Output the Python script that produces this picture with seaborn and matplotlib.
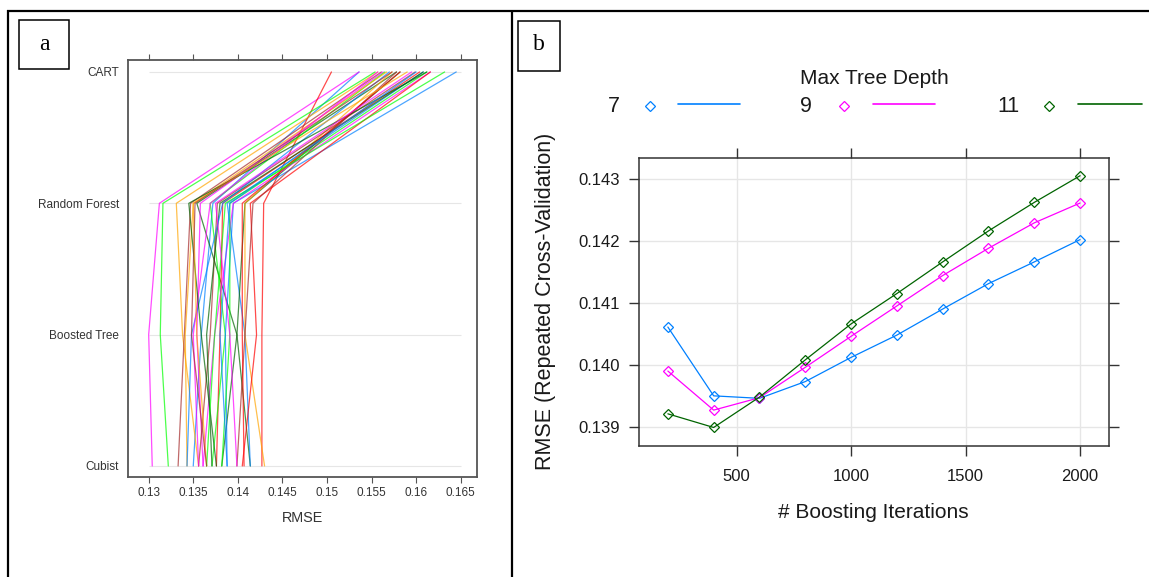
import numpy as np
import pandas as pd
import matplotlib
matplotlib.use("Agg")
import matplotlib.pyplot as plt
import seaborn as sns
from matplotlib.lines import Line2D
from matplotlib.patches import Rectangle

# ---------------- data: panel a (resample RMSE per model) ----------------
models = ["CART", "Random Forest", "Boosted Tree", "Cubist"]
cart = [0.1536, 0.1536, 0.1578, 0.1505, 0.1557, 0.1554, 0.1561, 0.1608, 0.1563, 0.1582,
        0.1604, 0.1573, 0.1565, 0.1599, 0.1645, 0.1616, 0.1608, 0.1616, 0.1567, 0.1612,
        0.1578, 0.1570, 0.1557, 0.1612, 0.1582, 0.1590, 0.1632, 0.1573, 0.1600, 0.1595]
rf = [0.1372, 0.1312, 0.1354, 0.1429, 0.1331, 0.1316, 0.1347, 0.1388, 0.1358, 0.1408,
      0.1383, 0.1408, 0.1369, 0.1377, 0.1395, 0.1395, 0.1380, 0.1414, 0.1350, 0.1391,
      0.1417, 0.1383, 0.1369, 0.1345, 0.1405, 0.1350, 0.1386, 0.1352, 0.1391, 0.1375]
bt = [0.1359, 0.1300, 0.1399, 0.1427, 0.1338, 0.1313, 0.1340, 0.1408, 0.1354, 0.1399,
      0.1380, 0.1408, 0.1386, 0.1369, 0.1386, 0.1374, 0.1365, 0.1421, 0.1341, 0.1391,
      0.1408, 0.1348, 0.1350, 0.1359, 0.1405, 0.1354, 0.1374, 0.1348, 0.1380, 0.1391]
cubist = [0.1350, 0.1304, 0.1414, 0.1427, 0.1356, 0.1322, 0.1333, 0.1414, 0.1361, 0.1382,
          0.1376, 0.1430, 0.1371, 0.1356, 0.1388, 0.1361, 0.1371, 0.1405, 0.1343, 0.1382,
          0.1399, 0.1343, 0.1356, 0.1376, 0.1407, 0.1365, 0.1365, 0.1365, 0.1388, 0.1399]
rmse_ticks = [0.13, 0.135, 0.14, 0.145, 0.15, 0.155, 0.16, 0.165]
rmse_tick_labels = ["0.13", "0.135", "0.14", "0.145", "0.15", "0.155", "0.16", "0.165"]

# ---------------- data: panel b (boosting tuning) ----------------
iterations = [200, 400, 600, 800, 1000, 1200, 1400, 1600, 1800, 2000]
depth7 = [0.14061, 0.13950, 0.13946, 0.13973, 0.14012, 0.14048, 0.14090, 0.14131, 0.14166, 0.14202]
depth9 = [0.13990, 0.13927, 0.13947, 0.13996, 0.14046, 0.14095, 0.14144, 0.14188, 0.14229, 0.14261]
depth11 = [0.13921, 0.13899, 0.13948, 0.14008, 0.14066, 0.14115, 0.14166, 0.14216, 0.14262, 0.14305]
depth_labels = ["7", "9", "11"]
iter_ticks = [500, 1000, 1500, 2000]
rmse_b_ticks = [0.139, 0.140, 0.141, 0.142, 0.143]

# lattice default superpose colours
lattice_cols = ["#0080ff", "#ff00ff", "#006400", "#ff0000", "#ffa500", "#00ff00", "#a52a2a"]

# ---------------- build long tables ----------------
n_res = len(cart)
res_ids = [f"Resample{i+1:02d}" for i in range(n_res)]
pos = {"CART": 3, "Random Forest": 2, "Boosted Tree": 1, "Cubist": 0}
rows = []
for i, rid in enumerate(res_ids):
    for m, vals in zip(models, [cart, rf, bt, cubist]):
        rows.append({"resample": rid, "model": m, "pos": pos[m], "RMSE": vals[i]})
dfa = pd.DataFrame(rows)

rows_b = []
for lab, vals in zip(depth_labels, [depth7, depth9, depth11]):
    for it, v in zip(iterations, vals):
        rows_b.append({"iter": it, "RMSE": v, "depth": lab})
dfb = pd.DataFrame(rows_b)

# ---------------- figure ----------------
sns.set_theme(style="white")
plt.rcParams["font.family"] = ["Liberation Sans", "DejaVu Sans"]

W, H = 1149, 577
fig = plt.figure(figsize=(W / 100, H / 100), dpi=100)
fig.patch.set_facecolor("white")


def fx(px):
    return px / W


def fy(py):
    return 1 - py / H


# ---- panel a ----
axA = fig.add_axes([fx(128), fy(477), (477 - 128) / W, (477 - 60) / H])
axA.hlines([0, 1, 2, 3], 0.13, 0.165, color="#e6e6e6", lw=0.8, zorder=0)
pal_a = [lattice_cols[i % len(lattice_cols)] for i in range(n_res)]
sns.lineplot(data=dfa, x="RMSE", y="pos", hue="resample", palette=pal_a,
             orient="y", estimator=None, sort=False, legend=False,
             lw=0.9, alpha=0.7, ax=axA)
axA.set_xlim(0.12768, 0.16683)
axA.set_ylim(-0.084, 3.091)
axA.set_xticks(rmse_ticks)
axA.set_xticklabels(rmse_tick_labels)
axA.set_yticks([pos[m] for m in models])
axA.set_yticklabels(models)
axA.tick_params(axis="x", which="both", top=True, bottom=True, labeltop=False,
                direction="out", length=4, width=0.8, color="#555555",
                labelsize=8.5, labelcolor="#333333", pad=3.5)
axA.tick_params(axis="y", length=0, labelsize=8.5, labelcolor="#333333", pad=6.5)
axA.set_xlabel("RMSE", fontsize=10.4, color="#333333")
axA.set_ylabel("")
axA.xaxis.set_label_coords(0.4986, -0.0983)
axA.xaxis.label.set_va("center")
for s in axA.spines.values():
    s.set_color("#555555")
    s.set_linewidth(1.3)

# ---- panel b ----
axB = fig.add_axes([fx(639), fy(445.7), (1108.7 - 639) / W, (445.7 - 158) / H])
axB.grid(True, color="#e6e6e6", lw=1)
axB.set_axisbelow(True)
sns.lineplot(data=dfb, x="iter", y="RMSE", hue="depth", hue_order=depth_labels,
             palette=lattice_cols[:3], marker="D", markersize=5, lw=0.9,
             legend=False, ax=axB)
for ln in axB.lines:
    ln.set_markeredgecolor(ln.get_color())
    ln.set_markerfacecolor("none")
    ln.set_markeredgewidth(0.9)
axB.set_xlim(74, 2125)
axB.set_ylim(0.138696, 0.143336)
axB.set_xticks(iter_ticks)
axB.set_xticklabels([str(t) for t in iter_ticks])
axB.set_yticks(rmse_b_ticks)
axB.set_yticklabels([f"{t:.3f}" for t in rmse_b_ticks])
axB.tick_params(axis="both", which="both", top=True, bottom=True, left=True, right=True,
                labeltop=False, labelright=False, direction="out", length=7.5,
                width=1.0, color="#333333", labelsize=12, labelcolor="#1a1a1a")
axB.tick_params(axis="x", pad=9)
axB.tick_params(axis="y", pad=6.5)
axB.set_xlabel("# Boosting Iterations", fontsize=15, color="#1a1a1a")
axB.set_ylabel("RMSE (Repeated Cross-Validation)", fontsize=15.5, color="#1a1a1a")
axB.xaxis.set_label_coords(0.498, -0.2305)
axB.xaxis.label.set_va("center")
axB.yaxis.set_label_coords(-0.198, 0.503)
axB.yaxis.label.set_va("center")
for s in axB.spines.values():
    s.set_color("#333333")
    s.set_linewidth(1.1)

# ---- panel b legend (lattice key style) ----
fig.text(fx(874), fy(78), "Max Tree Depth", ha="center", va="center",
         fontsize=15, color="#1a1a1a")
key_label_x = [614, 806, 1008]
key_marker_x = [650, 844, 1049]
key_line_x = [(678, 740), (873, 935), (1078, 1142)]
for lab, col, lx, mx, (l0, l1) in zip(depth_labels, lattice_cols[:3], key_label_x,
                                      key_marker_x, key_line_x):
    fig.text(fx(lx), fy(106), lab, ha="center", va="center", fontsize=15.5, color="#1a1a1a")
    fig.add_artist(Line2D([fx(mx)], [fy(106)], marker="D", markersize=5,
                          mfc="none", mec=col, mew=0.9, ls="none"))
    fig.add_artist(Line2D([fx(l0), fx(l1)], [fy(104), fy(104)], color=col, lw=1.2))

# ---- outer frame (table borders) ----
bk = dict(color="black", lw=1.6, solid_capstyle="butt")
fig.add_artist(Line2D([fx(7), 1.0], [fy(10.5), fy(10.5)], **bk))
fig.add_artist(Line2D([fx(8), fx(8)], [fy(10), 0.0], **bk))
fig.add_artist(Line2D([fx(512), fx(512)], [fy(10), 0.0], **bk))

# ---- panel label boxes ----
fig.add_artist(Rectangle((fx(19), fy(69)), 50 / W, 49 / H, fill=False,
                         ec="black", lw=1.1, transform=fig.transFigure))
fig.text(fx(44), fy(45), "a", ha="center", va="center", fontsize=17,
         family="Liberation Serif", color="black")
fig.add_artist(Rectangle((fx(518), fy(71)), 42 / W, 50 / H, fill=False,
                         ec="black", lw=1.1, transform=fig.transFigure))
fig.text(fx(539), fy(45), "b", ha="center", va="center", fontsize=17,
         family="Liberation Serif", color="black")

fig.savefig("out.png", dpi=100, facecolor="white")
